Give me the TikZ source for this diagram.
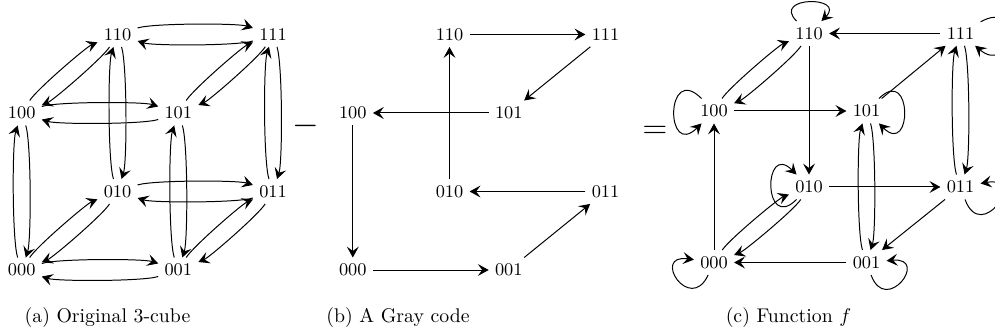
\documentclass[tikz,border=0pt]{standalone}
\usepackage{amsmath}
\usepackage{tikz}
\usetikzlibrary{arrows.meta}

\begin{document}
\begin{tikzpicture}[x=0.01775cm, y=-0.01775cm]
  % On définit les styles
  \tikzstyle{vertex} = [font=\small, inner sep=3pt]
  \tikzstyle{arc} = [-{Stealth[length=5.5pt, width=6pt, inset=2.2pt]}, line width=0.5pt]
  \tikzstyle{twin} = [arc, bend left=18, looseness=0.35]
  \tikzstyle{legend} = [font=\normalsize]

  \useasboundingbox (0,0) rectangle (995,335);

  % (a) Cube d'origine
  \node[vertex] (a000) at (21.7, 270) {000};
  \node[vertex] (a001) at (178.3, 270) {001};
  \node[vertex] (a100) at (21.7, 113) {100};
  \node[vertex] (a101) at (178.3, 113) {101};
  \node[vertex] (a010) at (117.5, 191.5) {010};
  \node[vertex] (a011) at (273, 191.5) {011};
  \node[vertex] (a110) at (117.5, 34.5) {110};
  \node[vertex] (a111) at (273, 34.5) {111};

  \foreach \u/\v in {000/001, 000/010, 000/100, 001/011, 001/101, 010/011,
                     010/110, 100/101, 100/110, 011/111, 101/111, 110/111} {
    \draw[twin] (a\u) to (a\v);
    \draw[twin] (a\v) to (a\u);
  }

  \node[font=\LARGE] (minus) at (306, 126) {$-$};

  % (b) Code de Gray
  \node[vertex] (b000) at (352.8, 270) {000};
  \node[vertex] (b001) at (508.8, 270) {001};
  \node[vertex] (b100) at (352.8, 113) {100};
  \node[vertex] (b101) at (508.8, 113) {101};
  \node[vertex] (b010) at (449.5, 191.5) {010};
  \node[vertex] (b011) at (605.5, 191.5) {011};
  \node[vertex] (b110) at (449.5, 34.5) {110};
  \node[vertex] (b111) at (605.5, 34.5) {111};

  \draw[arc] (b110) -- (b111);
  \draw[arc] (b111) -- (b101);
  \draw[arc] (b101) -- (b100);
  \draw[arc] (b100) -- (b000);
  \draw[arc] (b000) -- (b001);
  \draw[arc] (b001) -- (b011);
  \draw[arc] (b011) -- (b010);
  \draw[arc] (b010) -- (b110);

  \node[font=\LARGE] (equals) at (655, 132) {$=$};

  % (c) Fonction f
  \node[vertex] (c000) at (714, 262.5) {000};
  \node[vertex] (c001) at (866.5, 262.5) {001};
  \node[vertex] (c100) at (714, 111) {100};
  \node[vertex] (c101) at (866.5, 111) {101};
  \node[vertex] (c010) at (809, 187) {010};
  \node[vertex] (c011) at (960.5, 187) {011};
  \node[vertex] (c110) at (809, 33.5) {110};
  \node[vertex] (c111) at (960.5, 33.5) {111};

  \foreach \u/\v in {100/110, 011/111, 001/101, 000/010} {
    \draw[twin] (c\u) to (c\v);
    \draw[twin] (c\v) to (c\u);
  }
  \draw[arc] (c111) -- (c110);
  \draw[arc] (c110) -- (c010);
  \draw[arc] (c100) -- (c101);
  \draw[arc] (c101) -- (c111);
  \draw[arc] (c000) -- (c100);
  \draw[arc] (c010) -- (c011);
  \draw[arc] (c011) -- (c001);
  \draw[arc] (c001) -- (c000);

  % Boucles
  \draw[arc] (c110) to[out=135, in=45, distance=18pt] (c110);
  \draw[arc] (c100) to[out=135, in=225, distance=26pt] (c100);
  \draw[arc] (c101) to[out=45, in=-45, distance=24pt] (c101);
  \draw[arc] (c111) to[out=30, in=-40, distance=24pt] (c111);
  \draw[arc] (c010) to[out=225, in=135, distance=24pt] (c010);
  \draw[arc] (c011) to[out=-70, in=10, distance=24pt] (c011);
  \draw[arc] (c000) to[out=245, in=172, distance=22pt] (c000);
  \draw[arc] (c001) to[out=-70, in=5, distance=22pt] (c001);

  % Légendes
  \node[legend] (capa) at (107.5, 318) {(a) Original 3-cube};
  \node[legend] (capb) at (398, 318) {(b) A Gray code};
  \node[legend] (capc) at (788.5, 318) {(c) Function $f$};
\end{tikzpicture}
\end{document}
